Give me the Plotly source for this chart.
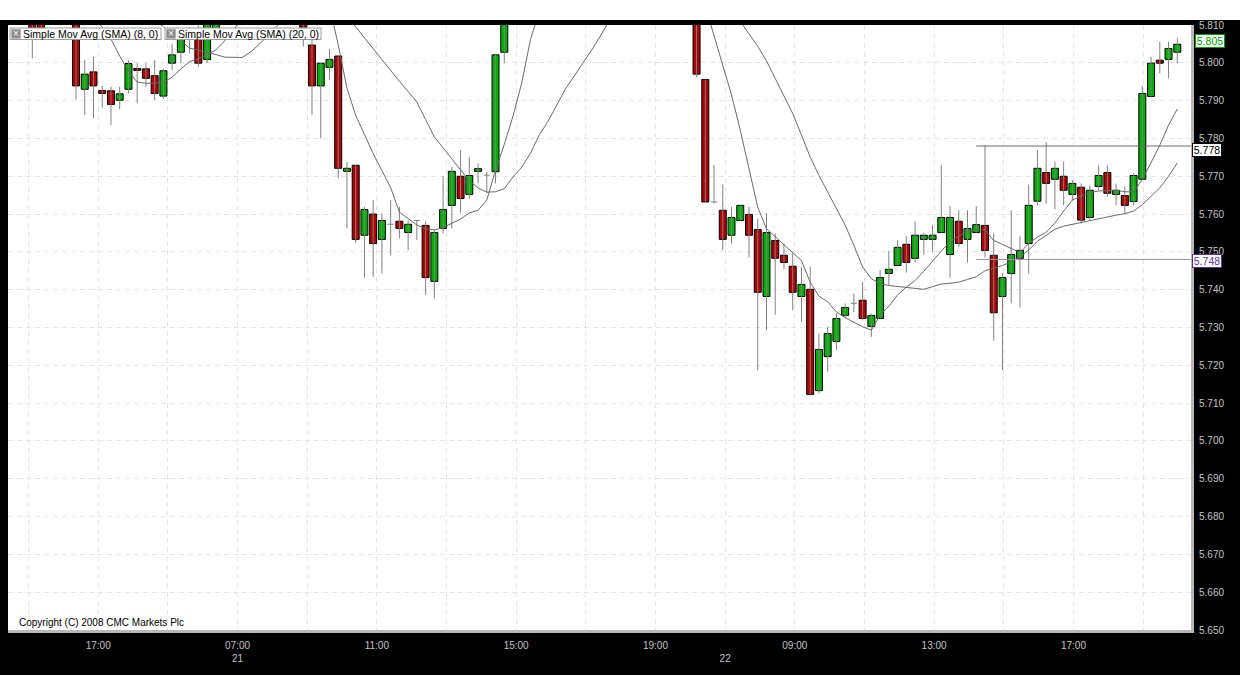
import plotly.graph_objects as go

N = None
# ---- data: 15-minute bars, index 0..131 (None = bar above visible range) ----
bar_index = list(range(132))

open_ = [5.8110, 5.8120, N, N, N, 5.8115, 5.7930, 5.7976, 5.7927, 5.7926,
         5.7901, 5.7930, 5.7985, 5.7984, 5.7966, 5.7912, 5.7999, 5.8028, 5.8085, 5.8068,
         5.8009, 5.8075, N, N, N, N, N, N, N, N,
         N, 5.8125, 5.8047, 5.7939, 5.7988, 5.8018, 5.7713, 5.7729, 5.7544, 5.7600,
         5.7533, 5.7573, 5.7581, 5.7551, 5.7583, 5.7570, 5.7422, 5.7562, 5.7623, 5.7700,
         5.7652, 5.7713, 5.7703, 5.7712, 5.8028, N, N, N, N, N,
         N, N, N, N, N, N, N, N, N, N,
         N, N, N, N, N, N, 5.8120, 5.7956, 5.7632, 5.7610,
         5.7544, 5.7583, 5.7599, 5.7559, 5.7382, 5.7530, 5.7491, 5.7462, 5.7382, 5.7401,
         5.7133, 5.7223, 5.7263, 5.7332, 5.7364, 5.7372, 5.7303, 5.7324, 5.7443, 5.7464,
         5.7520, 5.7483, 5.7533, 5.7533, 5.7551, 5.7493, 5.7581, 5.7533, 5.7551, 5.7570,
         5.7491, 5.7382, 5.7443, 5.7483, 5.7522, 5.7634, 5.7710, 5.7692, 5.7700, 5.7652,
         5.7671, 5.7591, 5.7673, 5.7710, 5.7652, 5.7649, 5.7633, 5.7692, 5.7911, 5.8007,
         5.8009, 5.8028]
high = [5.8130, 5.8140, N, N, N, 5.8125, 5.8007, 5.8016, 5.7939, 5.7937,
        5.7937, 5.8007, 5.7999, 5.7999, 5.8007, 5.7985, 5.8050, 5.8075, 5.8095, 5.8115,
        5.8120, 5.8140, N, N, N, N, N, N, N, N,
        N, 5.8135, 5.8074, 5.7999, 5.8036, 5.8018, 5.7738, 5.7729, 5.7619, 5.7637,
        5.7602, 5.7637, 5.7619, 5.7584, 5.7584, 5.7581, 5.7558, 5.7700, 5.7725, 5.7769,
        5.7751, 5.7734, 5.7712, 5.8021, 5.8135, N, N, N, N, N,
        N, N, N, N, N, N, N, N, N, N,
        N, N, N, N, N, N, 5.8125, 5.7956, 5.7730, 5.7678,
        5.7619, 5.7623, 5.7619, 5.7588, 5.7602, 5.7549, 5.7522, 5.7496, 5.7460, 5.7460,
        5.7284, 5.7302, 5.7337, 5.7364, 5.7390, 5.7421, 5.7337, 5.7452, 5.7503, 5.7531,
        5.7542, 5.7581, 5.7549, 5.7571, 5.7730, 5.7621, 5.7610, 5.7610, 5.7621, 5.7782,
        5.7549, 5.7444, 5.7610, 5.7542, 5.7678, 5.7769, 5.7790, 5.7739, 5.7739, 5.7690,
        5.7681, 5.7676, 5.7729, 5.7729, 5.7681, 5.7672, 5.7708, 5.7939, 5.8016, 5.8056,
        5.8056, 5.8065]
low = [5.8012, 5.8065, N, N, N, 5.7903, 5.7862, 5.7853, 5.7881, 5.7835,
       5.7877, 5.7919, 5.7893, 5.7937, 5.7902, 5.7905, 5.7981, 5.7999, 5.8025, 5.7990,
       5.7999, 5.8065, N, N, N, N, N, N, N, N,
       N, 5.8043, 5.7862, 5.7800, 5.7956, 5.7694, 5.7562, 5.7524, 5.7432, 5.7434,
       5.7443, 5.7491, 5.7536, 5.7505, 5.7531, 5.7386, 5.7377, 5.7549, 5.7562, 5.7603,
       5.7641, 5.7681, 5.7655, 5.7681, 5.7999, N, N, N, N, N,
       N, N, N, N, N, N, N, N, N, N,
       N, N, N, N, N, N, 5.7962, 5.7632, 5.7628, 5.7505,
       5.7522, 5.7583, 5.7485, 5.7187, 5.7293, 5.7334, 5.7455, 5.7346, 5.7315, 5.7120,
       5.7125, 5.7183, 5.7240, 5.7324, 5.7341, 5.7319, 5.7275, 5.7324, 5.7412, 5.7464,
       5.7445, 5.7472, 5.7493, 5.7500, 5.7551, 5.7432, 5.7513, 5.7472, 5.7551, 5.7485,
       5.7265, 5.7188, 5.7364, 5.7353, 5.7443, 5.7623, 5.7628, 5.7612, 5.7623, 5.7636,
       5.7575, 5.7584, 5.7663, 5.7646, 5.7623, 5.7603, 5.7623, 5.7692, 5.7911, 5.7972,
       5.7959, 5.7999]
close = [5.8075, 5.8090, N, N, N, 5.7939, 5.7970, 5.7939, 5.7919, 5.7890,
         5.7918, 5.7998, 5.7980, 5.7959, 5.7919, 5.7979, 5.8021, 5.8065, 5.8068, 5.7999,
         5.8105, 5.8130, N, N, N, N, N, N, N, N,
         N, 5.8094, 5.7939, 5.7999, 5.8009, 5.7721, 5.7721, 5.7533, 5.7612, 5.7522,
         5.7583, 5.7573, 5.7562, 5.7573, 5.7583, 5.7432, 5.7551, 5.7612, 5.7713, 5.7641,
         5.7702, 5.7720, 5.7703, 5.8021, 5.8125, N, N, N, N, N,
         N, N, N, N, N, N, N, N, N, N,
         N, N, N, N, N, N, 5.7970, 5.7632, 5.7632, 5.7533,
         5.7591, 5.7623, 5.7544, 5.7393, 5.7551, 5.7483, 5.7472, 5.7393, 5.7414, 5.7123,
         5.7242, 5.7284, 5.7324, 5.7353, 5.7364, 5.7324, 5.7332, 5.7432, 5.7454, 5.7512,
         5.7472, 5.7544, 5.7544, 5.7544, 5.7591, 5.7591, 5.7522, 5.7562, 5.7572, 5.7504,
         5.7339, 5.7432, 5.7493, 5.7504, 5.7623, 5.7721, 5.7681, 5.7721, 5.7663, 5.7681,
         5.7584, 5.7663, 5.7702, 5.7655, 5.7663, 5.7623, 5.7702, 5.7919, 5.7999, 5.7999,
         5.8038, 5.8049]

sma8 = [N, N, N, N, N, N, N, 5.8115, 5.8095, 5.8063,
        5.8018, 5.7978, 5.7949, 5.7946, 5.7946, 5.7948, 5.7962, 5.7984, 5.8003, 5.8010,
        5.8021, 5.8034, 5.8058, 5.8087, 5.8116, N, N, N, N, N,
        N, N, N, N, 5.8150, 5.8048, 5.7933, 5.7861, 5.7811, 5.7760,
        5.7715, 5.7670, 5.7605, 5.7587, 5.7571, 5.7561, 5.7558, 5.7564, 5.7576, 5.7587,
        5.7603, 5.7610, 5.7637, 5.7716, 5.7784, 5.7859, 5.7947, 5.8062, 5.8135, N,
        N, N, N, N, N, N, N, N, N, N,
        N, N, N, N, N, N, N, 5.8150, 5.8073, 5.7993,
        5.7915, 5.7822, 5.7724, 5.7618, 5.7561, 5.7540, 5.7520, 5.7499, 5.7477, 5.7420,
        5.7383, 5.7368, 5.7341, 5.7326, 5.7314, 5.7302, 5.7293, 5.7333, 5.7356, 5.7386,
        5.7407, 5.7424, 5.7449, 5.7477, 5.7502, 5.7527, 5.7542, 5.7554, 5.7558, 5.7558,
        5.7530, 5.7520, 5.7510, 5.7498, 5.7522, 5.7539, 5.7552, 5.7576, 5.7608, 5.7637,
        5.7648, 5.7657, 5.7661, 5.7662, 5.7663, 5.7659, 5.7659, 5.7691, 5.7735, 5.7782,
        5.7835, 5.7878]
sma20 = [N, N, N, N, N, N, N, N, N, N,
         N, N, N, N, 5.8113, 5.8095, 5.8074, 5.8058, 5.8039, 5.8034,
         5.8029, 5.8022, 5.8015, 5.8015, 5.8014, 5.8029, 5.8050, 5.8074, 5.8096, 5.8119,
         N, N, N, N, N, 5.8145, 5.8124, 5.8095, 5.8066, 5.8036,
         5.8007, 5.7979, 5.7951, 5.7924, 5.7896, 5.7850, 5.7804, 5.7775, 5.7746, 5.7716,
         5.7688, 5.7669, 5.7658, 5.7659, 5.7667, 5.7698, 5.7724, 5.7761, 5.7809, 5.7845,
         5.7887, 5.7931, 5.7965, 5.7998, 5.8034, 5.8071, 5.8111, N, N, N,
         N, N, N, N, N, N, N, N, N, N,
         5.8142, 5.8110, 5.8076, 5.8044, 5.8005, 5.7958, 5.7912, 5.7866, 5.7809, 5.7751,
         5.7702, 5.7659, 5.7614, 5.7571, 5.7517, 5.7460, 5.7429, 5.7416, 5.7411, 5.7408,
         5.7405, 5.7403, 5.7401, 5.7408, 5.7415, 5.7417, 5.7420, 5.7427, 5.7434, 5.7450,
         5.7457, 5.7464, 5.7474, 5.7486, 5.7505, 5.7528, 5.7544, 5.7560, 5.7568, 5.7573,
         5.7579, 5.7584, 5.7588, 5.7593, 5.7597, 5.7601, 5.7608, 5.7625, 5.7646, 5.7669,
         5.7700, 5.7735]

# time-axis labels, one per 2-hour gridline
time_labels = ["", "17:00", "", "07:00<br>21", "", "11:00", "", "15:00", "",
               "19:00", " <br>22", "09:00", "", "13:00", "", "17:00", ""]
price_ticks = [5.65 + 0.01 * k for k in range(17)]
legend_labels = ["Simple Mov Avg (SMA) (8, 0)", "Simple Mov Avg (SMA) (20, 0)"]

# horizontal level lines drawn from a bar to the right edge
level_values = [5.778, 5.748]
level_start_bar = 108

# ---- styling ----
UP, DOWN = "#00b000", "#b00000"
WICK = "#808080"
GRID = "#e4e4e4"
AXTXT = "#c4c4c4"
FONT = "Liberation Sans"
XMIN, XMAX = -2.78, 132.57
YMIN, YMAX = 5.65, 5.81
G0, GSTEP = -0.43, 7.97
W, H = 1244, 675
ML, MR, MT, MB = 8, 53, 25, 45
PW, PH = W - ML - MR, H - MT - MB


def px(xpix):
    return (xpix - ML) / PW


def py(ypix):
    return 1 - (ypix - MT) / PH


# wicks (plus doji crossbars)
wx, wy = [], []
for i in bar_index:
    if high[i] is None:
        continue
    wx += [i, i, None]
    wy += [low[i], high[i], None]
    if open_[i] == close[i]:
        wx += [i - 0.35, i + 0.35, None]
        wy += [open_[i], open_[i], None]

# bodies
bx, bbase, bh, bcol = [], [], [], []
for i in bar_index:
    o, c = open_[i], close[i]
    if o is None or o == c:
        continue
    bx.append(i)
    bbase.append(min(o, c))
    bh.append(abs(c - o))
    bcol.append(UP if c > o else DOWN)

fig = go.Figure()
fig.add_trace(go.Scatter(x=wx, y=wy, mode="lines", line=dict(color=WICK, width=1),
                         hoverinfo="skip", showlegend=False))
fig.add_trace(go.Bar(x=bx, y=bh, base=bbase, width=0.8,
                     marker=dict(color=bcol, line=dict(color="black", width=1)),
                     showlegend=False))
fig.add_trace(go.Scatter(x=bar_index, y=sma20, mode="lines", name=legend_labels[1],
                         line=dict(color="#6a6a6a", width=1), connectgaps=False))
fig.add_trace(go.Scatter(x=bar_index, y=sma8, mode="lines", name=legend_labels[0],
                         line=dict(color="#6a6a6a", width=1), connectgaps=False))

shapes = []
level_colors = ["#6c6c6c", "#9a8cb0"]
for v, col in zip(level_values, level_colors):
    shapes.append(dict(type="line", xref="x", yref="y", x0=level_start_bar, x1=XMAX,
                       y0=v, y1=v, line=dict(color=col, width=1)))
# white strip above the chart frame and at far right
shapes.append(dict(type="rect", xref="paper", yref="paper", x0=px(-5), x1=px(W + 5),
                   y0=py(20), y1=py(-5), fillcolor="white", line=dict(width=0), layer="above"))
shapes.append(dict(type="rect", xref="paper", yref="paper", x0=px(1240), x1=px(W + 5),
                   y0=py(H + 5), y1=py(20), fillcolor="white", line=dict(width=0), layer="above"))

ann = []
# legend boxes: frame (shape), close icon and label
legend_boxes = [(10, 161), (165, 321)]
for (left, right), label in zip(legend_boxes, legend_labels):
    shapes.append(dict(type="rect", xref="paper", yref="paper", x0=px(left), x1=px(right),
                       y0=py(39.5), y1=py(28), fillcolor="white",
                       line=dict(color="#9c9c9c", width=1), layer="above"))
    shapes.append(dict(type="rect", xref="paper", yref="paper", x0=px(left + 1.5),
                       x1=px(left + 10.5), y0=py(38.3), y1=py(29.3), fillcolor="#8a8a8a",
                       line=dict(color="#b4b4b4", width=1), layer="above"))
    ann.append(dict(xref="paper", yref="paper", x=px(left + 6), y=py(33.6),
                    xanchor="center", yanchor="middle", showarrow=False, text="×",
                    font=dict(family=FONT, size=10, color="white")))
    ann.append(dict(xref="paper", yref="paper", x=px(left + 11.5), y=py(34),
                    xanchor="left", yanchor="middle", showarrow=False, text=label,
                    font=dict(family=FONT, size=10.5, color="black"), borderpad=0))
ann.append(dict(xref="paper", yref="paper", x=px(17), y=py(622), xanchor="left",
                yanchor="middle", showarrow=False, text="Copyright (C) 2008 CMC Markets Plc",
                font=dict(family=FONT, size=10, color="black")))
# price labels on the right axis
last_close = close[-1]
for val, txt, col, shift, xoff in [
        (last_close, f"{last_close:.3f}", "#00a000", 3.6, 4),
        (level_values[0], f"{level_values[0]:.3f}", "black", -3.7, 1),
        (level_values[1], f"{level_values[1]:.3f}", "#5e2f92", -2.0, 1)]:
    ann.append(dict(xref="paper", yref="y", x=1 + xoff / PW, y=val, xanchor="left",
                    yanchor="middle", yshift=shift, showarrow=False, text=txt,
                    font=dict(family=FONT, size=10.5, color=col), bgcolor="white",
                    bordercolor=col, borderwidth=1, borderpad=1, width=26, height=10))

fig.update_layout(
    width=W, height=H, autosize=False,
    margin=dict(l=ML, r=MR, t=MT, b=MB, pad=0),
    paper_bgcolor="black", plot_bgcolor="white",
    showlegend=False, barmode="overlay", hovermode=False,
    shapes=shapes, annotations=ann,
    font=dict(family=FONT, size=10, color=AXTXT),
)
fig.update_xaxes(range=[XMIN, XMAX], tickmode="array",
                 tickvals=[G0 + k * GSTEP for k in range(len(time_labels))],
                 ticktext=time_labels, showgrid=True, gridcolor=GRID, gridwidth=1,
                 griddash="5px,4px", zeroline=False, showline=True, linecolor="#b8b8b8",
                 linewidth=3, ticks="outside", ticklen=4, tickcolor="black",
                 tickfont=dict(family=FONT, size=10, color=AXTXT))
fig.update_yaxes(range=[YMIN, YMAX], side="right", tickmode="array",
                 tickvals=price_ticks, ticktext=[f"{v:.3f}" for v in price_ticks],
                 showgrid=True, gridcolor=GRID, gridwidth=1, griddash="5px,4px",
                 zeroline=False, showline=True, linecolor="#b8b8b8", linewidth=3,
                 ticks="outside", ticklen=3, tickcolor="black",
                 tickfont=dict(family=FONT, size=10, color=AXTXT))

fig.write_html("out.html", config={"displayModeBar": False},
               post_script="document.body.style.margin='0';document.body.style.overflow='hidden';")
